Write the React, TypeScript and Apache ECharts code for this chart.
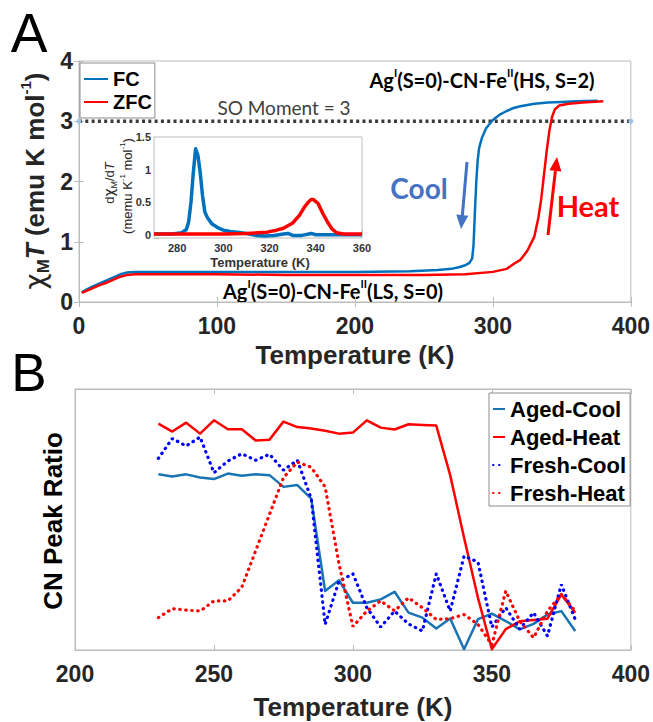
import React, { useEffect, useRef } from 'react';
import * as echarts from 'echarts';

// ---- Panel A: chi_M T vs T ----
const fcT = [2, 5, 10, 15, 20, 25, 30, 35, 40, 60, 100, 150, 200, 240, 260, 270, 276, 280, 283, 285, 286, 287, 288, 289, 290, 292, 295, 300, 305, 310, 315, 320, 330, 340, 350, 360, 376];
const fcV = [0.16, 0.2, 0.26, 0.31, 0.36, 0.41, 0.46, 0.49, 0.5, 0.5, 0.5, 0.5, 0.5, 0.51, 0.53, 0.55, 0.58, 0.61, 0.65, 0.72, 0.95, 1.5, 2.0, 2.35, 2.55, 2.72, 2.88, 3.02, 3.11, 3.17, 3.22, 3.25, 3.29, 3.31, 3.32, 3.33, 3.34];
const zfcT = [2, 5, 10, 15, 20, 25, 30, 35, 40, 60, 100, 150, 200, 250, 280, 300, 310, 315, 320, 325, 330, 333, 335, 337, 339, 341, 343, 345, 348, 355, 365, 380];
const zfcV = [0.15, 0.18, 0.23, 0.28, 0.32, 0.37, 0.42, 0.45, 0.46, 0.46, 0.46, 0.45, 0.45, 0.45, 0.46, 0.5, 0.55, 0.63, 0.7, 0.85, 1.08, 1.4, 1.7, 2.1, 2.5, 2.85, 3.08, 3.2, 3.26, 3.29, 3.31, 3.33];
const soLineT = [0, 400];
const soLineV = [3, 3];

// ---- Panel A inset: d(chi_M T)/dT ----
const dfcT = [270, 278, 282, 284, 285, 286, 287, 288, 289, 290, 291, 292, 293, 295, 298, 300, 303, 306, 310, 314, 318, 322, 326, 328, 330, 334, 338, 340, 345, 350, 360];
const dfcV = [0.01, 0.01, 0.03, 0.08, 0.2, 0.5, 0.95, 1.32, 1.22, 0.95, 0.6, 0.35, 0.27, 0.17, 0.1, 0.07, 0.05, 0.04, 0.02, -0.01, -0.02, -0.01, 0.01, 0.02, -0.01, -0.01, 0.02, 0, 0, 0, 0];
const dzfcT = [270, 280, 290, 300, 310, 315, 319, 323, 326, 330, 333, 335, 337, 338, 339, 341, 343, 345, 347, 349, 352, 360];
const dzfcV = [0.01, 0.01, 0.01, 0.01, 0.02, 0.03, 0.04, 0.07, 0.1, 0.18, 0.3, 0.42, 0.51, 0.54, 0.54, 0.48, 0.33, 0.2, 0.09, 0.03, 0.01, 0.01];

// ---- Panel B: CN peak ratio ----
const bT = [230, 235, 240, 245, 250, 255, 260, 265, 270, 275, 280, 285, 290, 295, 300, 305, 310, 315, 320, 325, 330, 335, 340, 345, 350, 355, 360, 365, 370, 375, 380];
const agedCool = [0.673, 0.665, 0.673, 0.661, 0.655, 0.676, 0.668, 0.673, 0.67, 0.625, 0.632, 0.58, 0.226, 0.267, 0.181, 0.181, 0.194, 0.223, 0.143, 0.124, 0.082, 0.121, 0.003, 0.118, 0.139, 0.111, 0.079, 0.1, 0.136, 0.149, 0.073];
const agedHeat = [0.867, 0.837, 0.871, 0.829, 0.88, 0.846, 0.846, 0.803, 0.806, 0.875, 0.854, 0.849, 0.84, 0.829, 0.833, 0.88, 0.852, 0.845, 0.865, 0.862, 0.86, 0.67, 0.43, 0.2, 0.003, 0.08, 0.11, 0.115, 0.12, 0.213, 0.143];
const freshCool = [0.734, 0.81, 0.782, 0.816, 0.679, 0.724, 0.752, 0.727, 0.75, 0.689, 0.727, 0.58, 0.098, 0.264, 0.292, 0.162, 0.088, 0.149, 0.1, 0.073, 0.292, 0.149, 0.36, 0.337, 0.088, 0.162, 0.08, 0.143, 0.054, 0.251, 0.117];
const freshHeat = [0.124, 0.158, 0.153, 0.149, 0.188, 0.188, 0.24, 0.38, 0.52, 0.66, 0.72, 0.7, 0.625, 0.33, 0.09, 0.149, 0.188, 0.15, 0.2, 0.162, 0.117, 0.12, 0.136, 0.098, 0.02, 0.226, 0.111, 0.047, 0.149, 0.213, 0.149];

const FONT = '"Liberation Sans", Arial, sans-serif';
const CAL = 'Lato, "Open Sans", sans-serif';
const AXC = '#bdbdbd';
const TXT = '#262626';
const MBLUE = '#0072BD';
const RED = '#FF0000';

const zip = (a: number[], b: number[]) => a.map((v, i) => [v, b[i]]);

function mkAxis(extra: any) {
  return {
    type: 'value',
    axisLine: { show: true, lineStyle: { color: AXC, width: 1 } },
    axisTick: { show: true, inside: true, length: 5, lineStyle: { color: AXC } },
    splitLine: { show: false },
    ...extra,
  };
}

const bigLabel = { fontFamily: FONT, fontWeight: 'bold', fontSize: 23, color: TXT };
const smallLabel = { fontFamily: FONT, fontWeight: 'bold', fontSize: 11, color: '#333' };

const supRich = (size: number, supSize: number, lh: number, family: string, weight: string, fill: string) => ({
  b: { fontSize: size, fontFamily: family, fontWeight: weight, fill, lineHeight: lh },
  sup: { fontSize: supSize, fontFamily: family, fontWeight: weight, fill, lineHeight: Math.round(supSize * 1.1), verticalAlign: 'top' },
});

export default function App() {
  const ref = useRef<HTMLDivElement>(null);
  useEffect(() => {
    const chart = echarts.init(ref.current!, null, { renderer: 'svg' });
    const lineSeries = (name: string, xi: number, yi: number, data: number[][], color: string, width: number, dotted = false, z = 3) => ({
      type: 'line',
      name,
      xAxisIndex: xi,
      yAxisIndex: yi,
      data,
      symbol: 'none',
      showSymbol: false,
      silent: true,
      z,
      itemStyle: { color },
      lineStyle: dotted
        ? { color, width: 3.2, type: [0.5, 5.5], cap: 'round' }
        : { color, width, join: 'round' },
    });

    const option: any = {
      animation: false,
      backgroundColor: '#fff',
      grid: [
        { left: 79, top: 61, width: 552, height: 241, show: true, borderColor: AXC, borderWidth: 1, backgroundColor: 'transparent' },
        { left: 154, top: 137, width: 208, height: 101, show: true, borderColor: AXC, borderWidth: 1, backgroundColor: '#fff', z: 1 },
        { left: 75, top: 389, width: 556, height: 261, show: true, borderColor: AXC, borderWidth: 1, backgroundColor: 'transparent' },
      ],
      xAxis: [
        mkAxis({ gridIndex: 0, min: 0, max: 400, interval: 100, position: 'bottom', axisLabel: { ...bigLabel, margin: 12 } }),
        mkAxis({ gridIndex: 0, min: 0, max: 400, interval: 100, position: 'top', axisLabel: { show: false } }),
        mkAxis({
          gridIndex: 1, min: 270, max: 360, splitNumber: 5, position: 'bottom',
          axisLabel: { ...smallLabel, margin: 4, formatter: (v: number) => (Math.abs(v % 20) < 1e-6 ? String(v) : '') },
        }),
        mkAxis({ gridIndex: 2, min: 200, max: 400, interval: 50, position: 'bottom', axisLabel: { ...bigLabel, margin: 12 } }),
        mkAxis({ gridIndex: 2, min: 200, max: 400, interval: 50, position: 'top', axisLabel: { show: false } }),
      ],
      yAxis: [
        mkAxis({ gridIndex: 0, min: 0, max: 4, interval: 1, position: 'left', axisLabel: { ...bigLabel, margin: 6 } }),
        mkAxis({ gridIndex: 0, min: 0, max: 4, interval: 1, position: 'right', axisLabel: { show: false } }),
        mkAxis({
          gridIndex: 1, min: -0.05, max: 1.5, splitNumber: 3, position: 'left',
          axisLabel: {
            ...smallLabel, margin: 3,
            formatter: (v: number) => (Math.abs(v / 0.5 - Math.round(v / 0.5)) < 1e-6 ? String(Math.round(v * 10) / 10) : ''),
          },
        }),
        mkAxis({ gridIndex: 2, min: 0, max: 1, position: 'left', axisLabel: { show: false }, axisTick: { show: false } }),
      ],
      legend: [
        {
          data: ['FC', 'ZFC'], orient: 'vertical', left: 80, top: 63, selectedMode: false,
          padding: [6, 3, 6, 3], itemWidth: 24, itemHeight: 12, itemGap: 3,
          itemStyle: { opacity: 0, borderWidth: 0 },
          backgroundColor: '#fff', borderColor: '#8c8c8c', borderWidth: 1,
          textStyle: { fontFamily: FONT, fontWeight: 'bold', fontSize: 20, lineHeight: 20, color: '#000' },
        },
        {
          data: ['Aged-Cool', 'Aged-Heat', 'Fresh-Cool', 'Fresh-Heat'], orient: 'vertical', left: 489, top: 393, selectedMode: false,
          padding: [5, 4, 2, 3], itemWidth: 12, itemHeight: 12, itemGap: 6,
          itemStyle: { opacity: 0, borderWidth: 0 },
          backgroundColor: '#fff', borderColor: '#8c8c8c', borderWidth: 1,
          textStyle: { fontFamily: FONT, fontWeight: 'bold', fontSize: 22, lineHeight: 22, color: '#000' },
        },
      ],
      series: [
        {
          type: 'line', name: 'SO Moment', xAxisIndex: 0, yAxisIndex: 0, data: zip(soLineT, soLineV), silent: true, z: 2,
          symbol: 'circle', symbolSize: 5, showSymbol: true,
          itemStyle: { color: '#9dc3e6' },
          lineStyle: { color: '#3a3a3a', width: 3.5, type: [3, 3.3] },
        },
        lineSeries('FC', 0, 0, zip(fcT, fcV), MBLUE, 2.5),
        lineSeries('ZFC', 0, 0, zip(zfcT, zfcV), RED, 2.5),
        lineSeries('dFC', 2, 2, zip(dfcT, dfcV), MBLUE, 3.5, false, 4),
        lineSeries('dZFC', 2, 2, zip(dzfcT, dzfcV), RED, 3.5, false, 4),
        lineSeries('Aged-Cool', 3, 3, zip(bT, agedCool), '#1874B4', 2.5),
        lineSeries('Aged-Heat', 3, 3, zip(bT, agedHeat), RED, 2.5),
        lineSeries('Fresh-Cool', 3, 3, zip(bT, freshCool), '#0000FF', 3, true),
        lineSeries('Fresh-Heat', 3, 3, zip(bT, freshHeat), RED, 3, true),
      ],
      graphic: [
        { type: 'text', x: 29, y: 33, silent: true, style: { text: 'A', fontFamily: FONT, fontSize: 55, fill: '#000', align: 'center', verticalAlign: 'middle' } },
        { type: 'text', x: 29, y: 372, silent: true, style: { text: 'B', fontFamily: FONT, fontSize: 53, fill: '#000', align: 'center', verticalAlign: 'middle' } },
        // axis titles
        { type: 'text', x: 355, y: 355, silent: true, style: { text: 'Temperature (K)', fontFamily: FONT, fontWeight: 'bold', fontSize: 26, fill: TXT, align: 'center', verticalAlign: 'middle' } },
        { type: 'text', x: 353, y: 707, silent: true, style: { text: 'Temperature (K)', fontFamily: FONT, fontWeight: 'bold', fontSize: 26, fill: TXT, align: 'center', verticalAlign: 'middle' } },
        { type: 'text', x: 53, y: 521, rotation: Math.PI / 2, silent: true, style: { text: 'CN Peak Ratio', fontFamily: FONT, fontWeight: 'bold', fontSize: 26, fill: '#000', align: 'center', verticalAlign: 'middle' } },
        {
          type: 'text', x: 35, y: 181, rotation: Math.PI / 2, silent: true,
          style: {
            text: '{chi|χ}{sub|M}{it|T}{n| (emu K mol}{sup|-1}{n|)}',
            align: 'center', verticalAlign: 'middle',
            rich: {
              chi: { fontFamily: '"DejaVu Sans", sans-serif', fontSize: 28, fill: TXT, lineHeight: 34 },
              sub: { fontFamily: FONT, fontWeight: 'bold', fontSize: 17, fill: TXT, lineHeight: 12, verticalAlign: 'bottom' },
              it: { fontFamily: FONT, fontWeight: 'bold', fontStyle: 'italic', fontSize: 26, fill: TXT, lineHeight: 34 },
              n: { fontFamily: FONT, fontWeight: 'bold', fontSize: 26, fill: TXT, lineHeight: 34 },
              sup: { fontFamily: FONT, fontWeight: 'bold', fontSize: 15, fill: TXT, lineHeight: 18, verticalAlign: 'top' },
            },
          },
        },
        // inset axis titles
        { type: 'text', x: 260, y: 262, silent: true, style: { text: 'Temperature (K)', fontFamily: FONT, fontWeight: 'bold', fontSize: 13, fill: '#333', align: 'center', verticalAlign: 'middle' } },
        {
          type: 'text', x: 109, y: 183, rotation: Math.PI / 2, silent: true,
          style: {
            text: '{n|d}{chi|χ}{sub|M}{n|/d}{it|T}', align: 'center', verticalAlign: 'middle',
            rich: {
              n: { fontFamily: FONT, fontSize: 13, fill: TXT, lineHeight: 18 },
              chi: { fontFamily: '"DejaVu Sans", sans-serif', fontSize: 14, fill: TXT, lineHeight: 18 },
              sub: { fontFamily: FONT, fontSize: 9, fill: TXT, lineHeight: 8, verticalAlign: 'bottom' },
              it: { fontFamily: FONT, fontStyle: 'italic', fontSize: 13, fill: TXT, lineHeight: 18 },
            },
          },
        },
        {
          type: 'text', x: 127, y: 186, rotation: Math.PI / 2, silent: true,
          style: {
            text: '{n|(memu K}{sup|-1}{n| mol}{sup|-1}{n|)}', align: 'center', verticalAlign: 'middle',
            rich: {
              n: { fontFamily: FONT, fontSize: 13, fill: TXT, lineHeight: 18 },
              sup: { fontFamily: FONT, fontSize: 8, fill: TXT, lineHeight: 9, verticalAlign: 'top' },
            },
          },
        },
        // annotations
        { type: 'text', x: 284, y: 107, silent: true, style: { text: 'SO Moment = 3', fontFamily: CAL, fontSize: 19, fill: '#404040', align: 'center', verticalAlign: 'middle' } },
        { type: 'text', x: 227, y: 155, silent: true, style: { text: '288', fontFamily: CAL, fontWeight: 'bold', fontSize: 24, fill: '#000', align: 'center', verticalAlign: 'middle' } },
        { type: 'text', x: 310, y: 185, silent: true, style: { text: '338', fontFamily: CAL, fontWeight: 'bold', fontSize: 24, fill: '#000', align: 'center', verticalAlign: 'middle' } },
        {
          type: 'text', x: 482, y: 80, silent: true,
          style: { text: '{b|Ag}{sup|I}{b|(S=0)-CN-Fe}{sup|II}{b|(HS, S=2)}', align: 'center', verticalAlign: 'middle', rich: supRich(20, 11, 26, CAL, 'bold', '#000') },
        },
        {
          type: 'text', x: 333, y: 291, silent: true,
          style: { text: '{b|Ag}{sup|I}{b|(S=0)-CN-Fe}{sup|II}{b|(LS, S=0)}', align: 'center', verticalAlign: 'middle', rich: supRich(20, 11, 26, CAL, 'bold', '#000') },
        },
        { type: 'text', x: 419, y: 188, silent: true, style: { text: 'Cool', fontFamily: CAL, fontWeight: 'bold', fontSize: 28, fill: '#4472C4', align: 'center', verticalAlign: 'middle' } },
        { type: 'text', x: 588, y: 205, silent: true, style: { text: 'Heat', fontFamily: CAL, fontWeight: 'bold', fontSize: 29, fill: RED, align: 'center', verticalAlign: 'middle' } },
        { type: 'line', silent: true, shape: { x1: 467, y1: 162, x2: 462.3, y2: 216 }, style: { stroke: '#4472C4', lineWidth: 3 } },
        { type: 'polygon', silent: true, shape: { points: [[461, 229], [468.3, 215.7], [456.3, 214.5]] }, style: { fill: '#4472C4' } },
        { type: 'line', silent: true, shape: { x1: 548, y1: 235, x2: 555.4, y2: 171 }, style: { stroke: RED, lineWidth: 3 } },
        { type: 'polygon', silent: true, shape: { points: [[557, 157], [561.4, 171.6], [549.4, 170.2]] }, style: { fill: RED } },
      ],
    };
    chart.setOption(option);
    return () => chart.dispose();
  }, []);
  return <div ref={ref} style={{ position: 'absolute', left: 0, top: 0, width: 653, height: 722, background: '#fff' }} />;
}
